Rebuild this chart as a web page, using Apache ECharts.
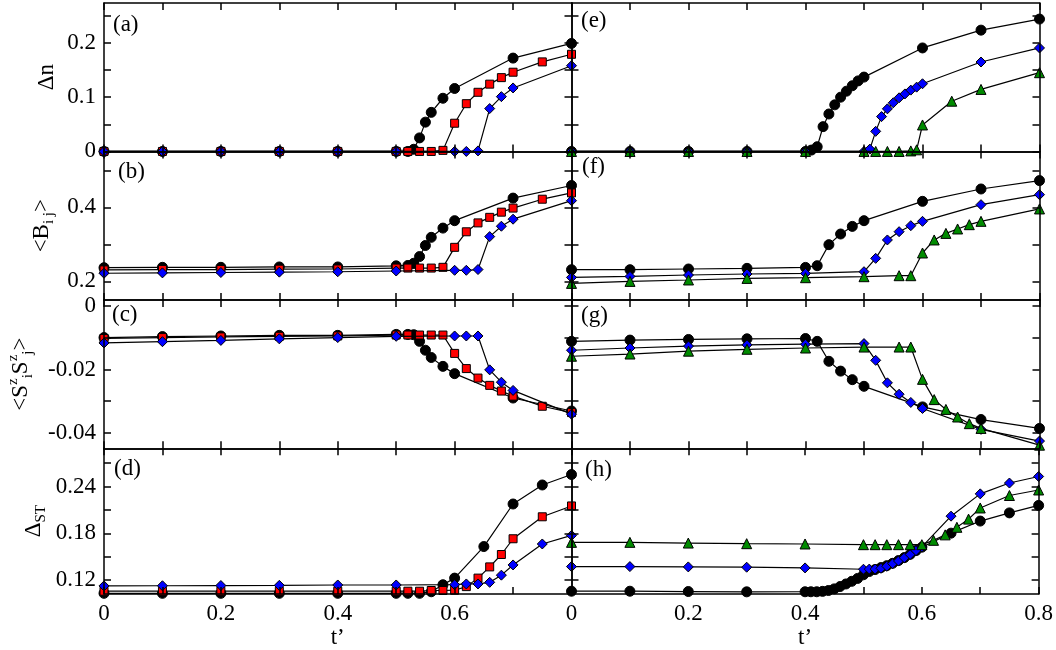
<!DOCTYPE html>
<html><head><meta charset="utf-8">
<script src="https://cdn.jsdelivr.net/npm/echarts@6/dist/echarts.min.js"></script>
<style>html,body{margin:0;padding:0;background:#fff}#c{width:1056px;height:650px}</style>
</head><body><div id="c"></div><script>
// ---------- data ----------
const xTickValues = [0,0.1,0.2,0.3,0.4,0.5,0.6,0.7,0.8];
const xLabelsLeft = [0,0.2,0.4,0.6];
const xLabelsRight = [0,0.2,0.4,0.6,0.8];
const xName = 't\u2019';
const panelLetters = ['(a)','(b)','(c)','(d)','(e)','(f)','(g)','(h)'];

const yRange = [[0,0.2735],[0.15,0.551],[-0.0449,0.002],[0.102,0.289]];
const yTicks = [[0,0.05,0.1,0.15,0.2,0.25],[0.2,0.3,0.4,0.5],[0,-0.01,-0.02,-0.03,-0.04],[0.12,0.15,0.18,0.21,0.24,0.27]];
const yLabels = [[0,0.1,0.2],[0.2,0.4],[0,-0.02,-0.04],[0.12,0.18,0.24]];
const yNames = ['{m|\u0394n}','{m|<B}{s|i j}{m|>}','{m|<S}{p|z}{s|i}{m|S}{p|z}{s|j}{m|>}','{m|\u0394}{s|ST}'];

// left column: black circles, red squares, blue diamonds
const a_black = [[0,0],[0.1,0],[0.2,0],[0.3,0],[0.4,0],[0.5,0],[0.52,0],[0.53,0.004],[0.54,0.025],[0.55,0.054],[0.56,0.072],[0.58,0.098],[0.6,0.116],[0.7,0.172],[0.8,0.199]];
const a_red = [[0,0],[0.1,0],[0.2,0],[0.3,0],[0.4,0],[0.5,0],[0.52,0],[0.54,0],[0.56,0],[0.58,0.002],[0.6,0.052],[0.62,0.088],[0.64,0.109],[0.66,0.124],[0.68,0.136],[0.7,0.146],[0.75,0.165],[0.8,0.179]];
const a_blue = [[0,0],[0.1,0],[0.2,0],[0.3,0],[0.4,0],[0.5,0],[0.6,0],[0.62,0],[0.64,0.001],[0.66,0.079],[0.68,0.101],[0.7,0.117],[0.8,0.158]];

const b_black = [[0,0.237],[0.1,0.238],[0.2,0.238],[0.3,0.239],[0.4,0.239],[0.5,0.242],[0.52,0.243],[0.53,0.249],[0.54,0.267],[0.55,0.297],[0.56,0.319],[0.58,0.344],[0.6,0.364],[0.7,0.425],[0.8,0.459]];
const b_red = [[0,0.231],[0.1,0.232],[0.2,0.232],[0.3,0.233],[0.4,0.2335],[0.5,0.236],[0.52,0.236],[0.54,0.236],[0.56,0.236],[0.58,0.238],[0.6,0.292],[0.62,0.334],[0.64,0.358],[0.66,0.373],[0.68,0.387],[0.7,0.398],[0.75,0.422],[0.8,0.439]];
const b_blue = [[0,0.222],[0.1,0.223],[0.2,0.224],[0.3,0.225],[0.4,0.226],[0.5,0.228],[0.6,0.230],[0.62,0.230],[0.64,0.232],[0.66,0.321],[0.68,0.349],[0.7,0.368],[0.8,0.418]];

const c_black = [[0,-0.0099],[0.1,-0.0096],[0.2,-0.0094],[0.3,-0.0092],[0.4,-0.0092],[0.5,-0.0089],[0.52,-0.0089],[0.53,-0.009],[0.54,-0.0111],[0.55,-0.0139],[0.56,-0.0162],[0.58,-0.019],[0.6,-0.0213],[0.7,-0.029],[0.8,-0.0331]];
const c_red = [[0,-0.0102],[0.1,-0.0099],[0.2,-0.0097],[0.3,-0.0095],[0.4,-0.0094],[0.5,-0.0091],[0.52,-0.0091],[0.54,-0.0091],[0.56,-0.0091],[0.58,-0.0091],[0.6,-0.0149],[0.62,-0.0197],[0.64,-0.0227],[0.66,-0.025],[0.68,-0.0268],[0.7,-0.0284],[0.75,-0.0316],[0.8,-0.0336]];
const c_blue = [[0,-0.0116],[0.1,-0.0112],[0.2,-0.0108],[0.3,-0.0103],[0.4,-0.0099],[0.5,-0.0095],[0.6,-0.0094],[0.62,-0.0094],[0.64,-0.0094],[0.66,-0.0201],[0.68,-0.024],[0.7,-0.0266],[0.8,-0.0341]];

const d_black = [[0,0.103],[0.1,0.103],[0.2,0.103],[0.3,0.103],[0.4,0.103],[0.5,0.103],[0.52,0.103],[0.54,0.103],[0.56,0.105],[0.58,0.114],[0.6,0.1225],[0.65,0.163],[0.7,0.2176],[0.75,0.242],[0.8,0.2554]];
const d_red = [[0,0.1057],[0.1,0.1057],[0.2,0.1057],[0.3,0.1057],[0.4,0.1057],[0.5,0.1057],[0.52,0.1057],[0.54,0.1057],[0.56,0.1066],[0.58,0.1066],[0.6,0.107],[0.62,0.1116],[0.64,0.1225],[0.66,0.1369],[0.68,0.1528],[0.7,0.173],[0.75,0.2012],[0.8,0.2151]];
const d_blue = [[0,0.1125],[0.1,0.1127],[0.2,0.113],[0.3,0.1132],[0.4,0.1137],[0.5,0.1137],[0.6,0.1141],[0.62,0.115],[0.64,0.115],[0.66,0.1171],[0.68,0.1263],[0.7,0.1394],[0.75,0.1663],[0.8,0.1773]];

// right column: black circles, blue diamonds, green triangles
const e_black = [[0,0],[0.1,0],[0.2,0],[0.3,0],[0.4,0],[0.41,0.0025],[0.42,0.0087],[0.43,0.0457],[0.44,0.069],[0.45,0.0859],[0.46,0.1],[0.47,0.111],[0.48,0.121],[0.49,0.13],[0.5,0.137],[0.6,0.1907],[0.7,0.2235],[0.8,0.2439]];
const e_blue = [[0,0],[0.1,0],[0.2,0],[0.3,0],[0.4,0],[0.5,0],[0.51,0.0043],[0.52,0.037],[0.53,0.0642],[0.54,0.0785],[0.55,0.0896],[0.56,0.0988],[0.57,0.106],[0.58,0.113],[0.59,0.1185],[0.6,0.1247],[0.7,0.1648],[0.8,0.1907]];
const e_green = [[0,0],[0.1,0],[0.2,0],[0.3,0],[0.4,0],[0.5,0],[0.52,0],[0.54,0],[0.56,0],[0.58,0.001],[0.59,0.003],[0.6,0.0488],[0.65,0.0926],[0.7,0.1143],[0.8,0.1451]];

const f_black = [[0,0.2316],[0.1,0.2316],[0.2,0.2335],[0.3,0.2352],[0.4,0.2378],[0.42,0.2424],[0.44,0.2992],[0.46,0.328],[0.48,0.3486],[0.5,0.364],[0.6,0.4162],[0.7,0.4496],[0.8,0.4722]];
const f_blue = [[0,0.2108],[0.1,0.2135],[0.2,0.2172],[0.3,0.22],[0.4,0.2216],[0.5,0.2262],[0.52,0.2622],[0.54,0.3119],[0.56,0.3343],[0.58,0.3505],[0.6,0.3622],[0.7,0.4073],[0.8,0.4343]];
const f_green = [[0,0.1946],[0.1,0.2],[0.2,0.2038],[0.3,0.2081],[0.4,0.21],[0.5,0.2127],[0.56,0.2154],[0.58,0.2154],[0.6,0.2767],[0.62,0.3119],[0.64,0.3297],[0.66,0.3416],[0.68,0.3532],[0.7,0.3622],[0.8,0.3957]];

const g_black = [[0,-0.0111],[0.1,-0.0107],[0.2,-0.0105],[0.3,-0.0103],[0.4,-0.0102],[0.42,-0.0111],[0.44,-0.0174],[0.46,-0.0205],[0.48,-0.0232],[0.5,-0.0253],[0.6,-0.0318],[0.7,-0.0358],[0.8,-0.0386]];
const g_blue = [[0,-0.0139],[0.1,-0.0132],[0.2,-0.0126],[0.3,-0.0122],[0.4,-0.012],[0.5,-0.0118],[0.52,-0.0171],[0.54,-0.0242],[0.56,-0.0278],[0.58,-0.0304],[0.6,-0.0323],[0.7,-0.0389],[0.8,-0.0426]];
const g_green = [[0,-0.0158],[0.1,-0.0151],[0.2,-0.0142],[0.3,-0.0136],[0.4,-0.0132],[0.5,-0.0129],[0.56,-0.0129],[0.58,-0.0129],[0.6,-0.0231],[0.62,-0.0295],[0.64,-0.0326],[0.66,-0.035],[0.68,-0.0371],[0.7,-0.0386],[0.8,-0.0439]];

const h_black = [[0,0.1057],[0.1,0.1057],[0.2,0.1053],[0.3,0.1049],[0.4,0.105],[0.41,0.105],[0.42,0.105],[0.43,0.1055],[0.44,0.1066],[0.45,0.1087],[0.46,0.1117],[0.47,0.115],[0.48,0.1184],[0.49,0.1221],[0.5,0.1268],[0.51,0.131],[0.52,0.1335],[0.53,0.136],[0.54,0.1385],[0.55,0.1415],[0.56,0.145],[0.57,0.1488],[0.58,0.153],[0.59,0.1578],[0.6,0.1622],[0.65,0.1802],[0.7,0.1957],[0.75,0.2062],[0.8,0.2158]];
const h_blue = [[0,0.1373],[0.1,0.1373],[0.2,0.1369],[0.3,0.1365],[0.4,0.1356],[0.5,0.1339],[0.51,0.1341],[0.52,0.1341],[0.53,0.1351],[0.54,0.1377],[0.55,0.1411],[0.56,0.1445],[0.57,0.1486],[0.58,0.1528],[0.59,0.1578],[0.6,0.1625],[0.65,0.202],[0.7,0.2306],[0.75,0.2445],[0.8,0.2529]];
const h_green = [[0,0.1684],[0.1,0.1684],[0.2,0.1675],[0.3,0.1667],[0.4,0.1663],[0.5,0.1654],[0.52,0.1654],[0.54,0.1654],[0.56,0.1654],[0.58,0.1654],[0.6,0.1654],[0.62,0.171],[0.64,0.178],[0.66,0.1877],[0.68,0.1982],[0.7,0.2125],[0.75,0.2285],[0.8,0.2356]];

const leftPanels = [[a_black,a_red,a_blue],[b_black,b_red,b_blue],[c_black,c_red,c_blue],[d_black,d_red,d_blue]];
const rightPanels = [[e_black,e_blue,e_green],[f_black,f_blue,f_green],[g_black,g_blue,g_green],[h_black,h_blue,h_green]];

// ---------- styling / layout ----------
const FONT = 'Liberation Serif';
const FS = 23;
const styleLeft = [{sym:'circle',size:10,color:'#000000'},{sym:'rect',size:8,color:'#ff0000'},{sym:'diamond',size:10,color:'#0000ff'}];
const styleRight = [{sym:'circle',size:10,color:'#000000'},{sym:'diamond',size:10,color:'#0000ff'},{sym:'triangle',size:10,color:'#008b00'}];
const colX = [104, 571.5], colW = [467.5, 468];
const rowTop = 3, rowH = 148.45;
const yNameGap = [42, 47, 68, 55];
const letterPos = [[113,13],[118,160],[112,303],[114,457],[581,9],[582,155],[581,304],[585,458]];

const fmt = v => String(parseFloat(Number(v).toFixed(4)));
const axLine = {show:true, onZero:false, lineStyle:{color:'#000', width:1.5}};
const tickStyle = {color:'#000', width:1.5};
const labStyle = {color:'#000', fontFamily:FONT, fontSize:FS, margin:8, formatter:fmt};
const richName = {
  m:{fontFamily:FONT, fontSize:FS, lineHeight:30, color:'#000'},
  s:{fontFamily:FONT, fontSize:15, lineHeight:15, verticalAlign:'bottom', color:'#000'},
  p:{fontFamily:FONT, fontSize:15, lineHeight:15, verticalAlign:'top', color:'#000'}
};

const grid = [], xAxis = [], yAxis = [], series = [], graphic = [];
for (let c = 0; c < 2; c++) {
  for (let r = 0; r < 4; r++) {
    const g = c*4 + r;
    grid.push({left: colX[c], top: rowTop + r*rowH, width: colW[c], height: rowH});
    const bottomRow = (r === 3);
    xAxis.push({type:'value', gridIndex:g, position:'bottom', min:0, max:0.8, z:5,
      axisLine:axLine,
      axisTick:{show:true, inside:true, length:7, lineStyle:tickStyle, customValues:xTickValues},
      axisLabel:Object.assign({show:bottomRow, customValues: c===0 ? xLabelsLeft : xLabelsRight}, labStyle),
      splitLine:{show:false},
      name: bottomRow ? xName : '', nameLocation:'middle', nameGap:27,
      nameTextStyle:{fontFamily:FONT, fontSize:FS, color:'#000'}
    });
    xAxis.push({type:'value', gridIndex:g, position:'top', min:0, max:0.8, z:5,
      axisLine:axLine,
      axisTick:{show:true, inside:true, length:7, lineStyle:tickStyle, customValues:xTickValues},
      axisLabel:{show:false}, splitLine:{show:false}
    });
    yAxis.push({type:'value', gridIndex:g, position:'left', min:yRange[r][0], max:yRange[r][1], z:5,
      axisLine:axLine,
      axisTick:{show:true, inside:true, length:7, lineStyle:tickStyle, customValues:yTicks[r]},
      axisLabel:Object.assign({show:c===0, customValues:yLabels[r]}, labStyle),
      splitLine:{show:false},
      name: c===0 ? yNames[r] : '', nameLocation:'middle', nameGap:yNameGap[r],
      nameTextStyle:{rich:richName}
    });
    yAxis.push({type:'value', gridIndex:g, position:'right', min:yRange[r][0], max:yRange[r][1], z:5,
      axisLine:axLine,
      axisTick:{show:true, inside:true, length:7, lineStyle:tickStyle, customValues:yTicks[r]},
      axisLabel:{show:false}, splitLine:{show:false}
    });
    const sets = c===0 ? leftPanels[r] : rightPanels[r];
    const sty = c===0 ? styleLeft : styleRight;
    sets.forEach((data, k) => {
      series.push({type:'line', xAxisIndex:2*g, yAxisIndex:2*g, data:data,
        symbol:sty[k].sym, symbolSize:sty[k].size, showAllSymbol:true, clip:false,
        itemStyle:{color:sty[k].color, borderColor:'#000', borderWidth:1},
        lineStyle:{color:'#000', width:1.2},
        emphasis:{disabled:true}, z:2+k, animation:false});
    });
    graphic.push({type:'text', left:letterPos[g][0], top:letterPos[g][1],
      style:{text:panelLetters[g], font:FS + 'px "Liberation Serif"', fill:'#000'}});
  }
}

const chart = echarts.init(document.getElementById('c'), null, {renderer:'canvas'});
chart.setOption({animation:false, backgroundColor:'#fff', grid, xAxis, yAxis, series, graphic});
</script></body></html>
